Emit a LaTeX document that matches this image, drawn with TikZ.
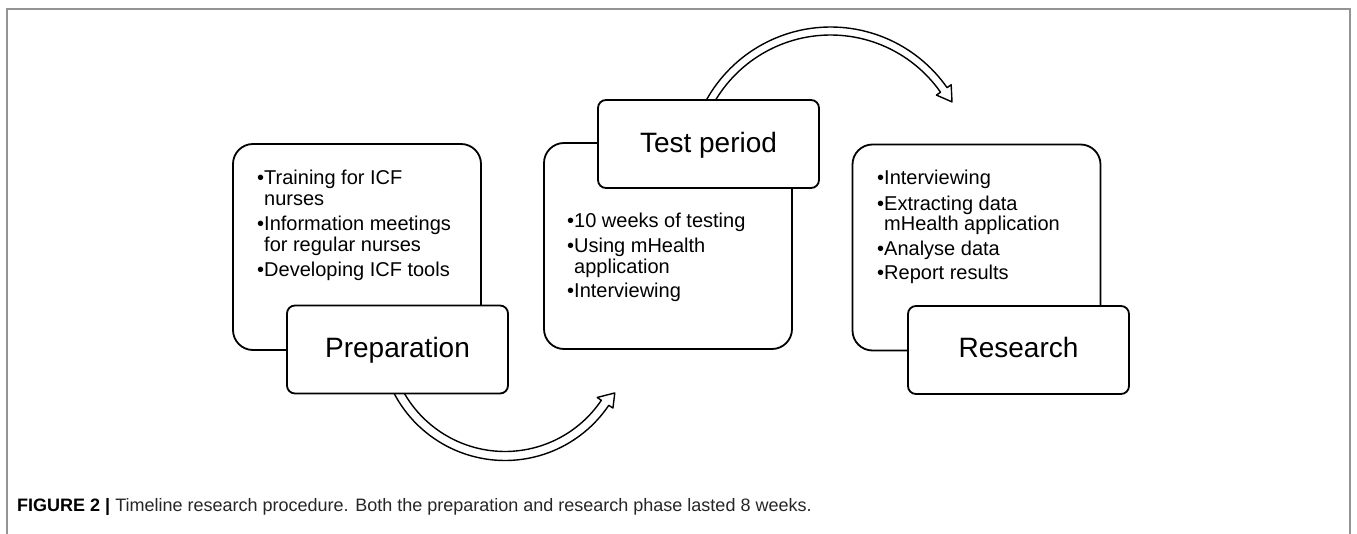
\documentclass[tikz,border=0pt]{standalone}
\usepackage{fontspec}
\setmainfont{Liberation Sans}
\begin{document}
\begin{tikzpicture}[x=1pt,y=-1pt,
  contentbox/.style={draw=black,line width=1.8pt,fill=white,rounded corners=20pt,
    minimum width=248pt,minimum height=206pt,inner sep=0pt},
  labelbox/.style={draw=black,line width=1.8pt,fill=white,rounded corners=8pt,
    minimum width=221pt,minimum height=88pt,inner sep=0pt,
    font=\fontsize{28}{32}\selectfont},
  itemtext/.style={anchor=base west,inner sep=0pt,font=\fontsize{20}{24}\selectfont},
  blockarrow/.style={draw=black,line width=1.4pt,fill=white,line join=round},
  frameline/.style={draw=black!42,line width=1.3pt},
  captiontext/.style={anchor=base west,inner sep=0pt,font=\fontsize{18}{22}\selectfont,text=black!85}
]
\useasboundingbox (0,0) rectangle (1357,534);
\fill[white] (0,0) rectangle (1357,534);
\begin{scope}
\clip (0,0) rectangle (1357,534);
\draw[frameline] (7,9) rectangle (1350,600);
\end{scope}

% content boxes
\node[contentbox] (prepC) at (357,247) {};
\node[contentbox] (testC) at (668,246) {};
\node[contentbox] (resC)  at (976.5,247.5) {};

% curved block arrows
\coordinate (c1) at (505,335.3);
\coordinate (c2) at (830.6,169.2);
\draw[blockarrow]
  plot[domain=158:34,samples=60] ({505+125.2*cos(\x)},{335.3+125.2*sin(\x)})
  -- ({505+130.2*cos(34)},{335.3+130.2*sin(34)})
  -- ({505+124*cos(27.7)},{335.3+124*sin(27.7)})
  -- ({505+111.2*cos(34)},{335.3+111.2*sin(34)})
  -- plot[domain=34:158,samples=60] ({505+116.2*cos(\x)},{335.3+116.2*sin(\x)})
  -- cycle;
\draw[blockarrow]
  plot[domain=-155:-35,samples=60] ({830.6+142.2*cos(\x)},{169.2+142.2*sin(\x)})
  -- ({830.6+147.2*cos(-35)},{169.2+147.2*sin(-35)})
  -- ({830.6+138.8*cos(-29)},{169.2+138.8*sin(-29)})
  -- ({830.6+129.2*cos(-35)},{169.2+129.2*sin(-35)})
  -- plot[domain=-35:-155,samples=60] ({830.6+134.2*cos(\x)},{169.2+134.2*sin(\x)})
  -- cycle;

% label boxes
\node[labelbox] (prepL) at (397.5,349.5) {};
\node[labelbox] (testL) at (708.5,144) {};
\node[labelbox] (resL)  at (1018.5,350) {};
\node[anchor=base,inner sep=0pt,font=\fontsize{28}{32}\selectfont] (prepT) at (397.5,358) {Preparation};
\node[anchor=base,inner sep=0pt,font=\fontsize{28}{32}\selectfont] (testT) at (708.5,153) {Test period};
\node[anchor=base,inner sep=0pt,font=\fontsize{28}{32}\selectfont] (resT)  at (1018.5,358) {Research};

% preparation items
\node[itemtext] (p1) at (257,185) {•Training for ICF};
\node[itemtext] (p2) at (257,206) {\hphantom{•}nurses};
\node[itemtext] (p3) at (257,231) {•Information meetings};
\node[itemtext] (p4) at (257,252) {\hphantom{•}for regular nurses};
\node[itemtext] (p5) at (257,277) {•Developing ICF tools};

% test period items
\node[itemtext] (t1) at (567,228) {•10 weeks of testing};
\node[itemtext] (t2) at (567,253) {•Using mHealth};
\node[itemtext] (t3) at (567,274) {\hphantom{•}application};
\node[itemtext] (t4) at (567,298) {•Interviewing};

% research items
\node[itemtext] (r1) at (877,185) {•Interviewing};
\node[itemtext] (r2) at (877,211) {•Extracting data};
\node[itemtext] (r3) at (877,231) {\hphantom{•}mHealth application};
\node[itemtext] (r4) at (877,256) {•Analyse data};
\node[itemtext] (r5) at (877,280) {•Report results};

% caption
\node[captiontext] (cap) at (17,511) {{\color{black}\bfseries FIGURE 2 |} Timeline research procedure. Both the preparation and research phase lasted 8 weeks.};
\end{tikzpicture}
\end{document}
